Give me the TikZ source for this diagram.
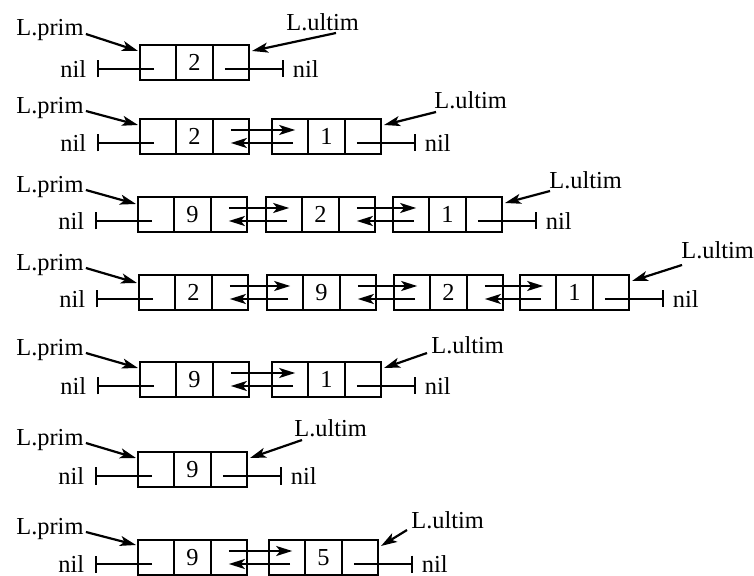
\documentclass[tikz,border=0pt]{standalone}
\usepackage{fontspec}
\setmainfont{Liberation Serif}
\usetikzlibrary{arrows.meta,positioning}

\tikzset{
  cell/.style={draw, line width=1.05pt, minimum width=18.17pt, minimum height=17.5pt, inner sep=0pt, outer sep=0pt},
  ptr/.style={line width=1.1pt, -{Stealth[length=8pt,width=5pt,inset=2pt]}},
  nilend/.style={line width=1.1pt, -{Bar[width=8.5pt,line width=1.1pt]}},
  lbl/.style={inner sep=1pt}
}

% list element: prev | value | next
\newcommand\elem[4]{%
  \node[cell,anchor=north west] (#1a) at (#2,#3) {};
  \node[cell,right=0pt of #1a] (#1b) {#4};
  \node[cell,right=0pt of #1b] (#1c) {};}
% next/prev links between two neighbours
\newcommand\dlink[2]{%
  \draw[ptr] ([shift={(0,-6.5)}]#1c.center) -- ([shift={(5,-6.5)}]#2a.center);
  \draw[ptr] ([shift={(3,6.5)}]#2a.center) -- ([shift={(0,6.5)}]#1c.center);}
% nil ends
\newcommand\nilL[1]{\draw[nilend] ([shift={(-4,6.5)}]#1a.center) -- ++(-57,0) node[lbl,left=4pt] (#1nil) {nil};}
\newcommand\nilR[1]{\draw[nilend] ([shift={(-6,6.5)}]#1c.center) -- ++(59,0) node[lbl,right=3pt] (#1nil) {nil};}

\begin{document}
\begin{tikzpicture}[x=0.5pt,y=-0.5pt,font=\fontsize{12.2}{14}\selectfont]
\useasboundingbox (0,0) rectangle (754,576);

% [2]
\elem{A1}{140}{45}{2}
\nilL{A1} \nilR{A1}
\node[lbl,anchor=west] (pA) at (14,30) {L.prim};
\node[lbl,anchor=west] (uA) at (284,22) {L.ultim};
\draw[ptr] ([yshift=-2pt]pA.east) -- ([shift={(-2,6)}]A1a.north west);
\draw[ptr] ([shift={(52,11)}]uA.west) -- ([shift={(3,6)}]A1c.north east);

% [2,1]
\elem{B1}{140}{119}{2}
\elem{B2}{272}{119}{1}
\dlink{B1}{B2}
\nilL{B1} \nilR{B2}
\node[lbl,anchor=west] (pB) at (14,108) {L.prim};
\node[lbl,anchor=west] (uB) at (432,100) {L.ultim};
\draw[ptr] ([yshift=-1.5pt]pB.east) -- ([shift={(-2,6)}]B1a.north west);
\draw[ptr] ([shift={(4,12)}]uB.west) -- ([shift={(3,6)}]B2c.north east);

% [9,2,1]
\elem{C1}{138}{197}{9}
\elem{C2}{266}{197}{2}
\elem{C3}{393}{197}{1}
\dlink{C1}{C2} \dlink{C2}{C3}
\nilL{C1} \nilR{C3}
\node[lbl,anchor=west] (pC) at (14,187) {L.prim};
\node[lbl,anchor=west] (uC) at (547,180) {L.ultim};
\draw[ptr] ([yshift=-1.5pt]pC.east) -- ([shift={(-2,7)}]C1a.north west);
\draw[ptr] ([shift={(3,11)}]uC.west) -- ([shift={(3,6)}]C3c.north east);

% [2,9,2,1]
\elem{D1}{139}{275}{2}
\elem{D2}{267}{275}{9}
\elem{D3}{394}{275}{2}
\elem{D4}{520}{275}{1}
\dlink{D1}{D2} \dlink{D2}{D3} \dlink{D3}{D4}
\nilL{D1} \nilR{D4}
\node[lbl,anchor=west] (pD) at (14,265) {L.prim};
\node[lbl,anchor=west] (uD) at (679,250) {L.ultim};
\draw[ptr] ([yshift=-1.5pt]pD.east) -- ([shift={(-2,8)}]D1a.north west);
\draw[ptr] ([shift={(3,15)}]uD.west) -- ([shift={(3,6)}]D4c.north east);

% [9,1]
\elem{E1}{140}{362}{9}
\elem{E2}{272}{362}{1}
\dlink{E1}{E2}
\nilL{E1} \nilR{E2}
\node[lbl,anchor=west] (pE) at (14,350) {L.prim};
\node[lbl,anchor=west] (uE) at (429,345) {L.ultim};
\draw[ptr] ([yshift=-1.5pt]pE.east) -- ([shift={(-2,6)}]E1a.north west);
\draw[ptr] ([shift={(-2,8)}]uE.west) -- ([shift={(3,6)}]E2c.north east);

% [9]
\elem{F1}{138}{452}{9}
\nilL{F1} \nilR{F1}
\node[lbl,anchor=west] (pF) at (14,440) {L.prim};
\node[lbl,anchor=west] (uF) at (292,428) {L.ultim};
\draw[ptr] ([yshift=-1.5pt]pF.east) -- ([shift={(-2,6)}]F1a.north west);
\draw[ptr] ([shift={(10,12)}]uF.west) -- ([shift={(3,6)}]F1c.north east);

% [9,5]
\elem{G1}{138}{540}{9}
\elem{G2}{269}{540}{5}
\dlink{G1}{G2}
\nilL{G1} \nilR{G2}
\node[lbl,anchor=west] (pG) at (14,529) {L.prim};
\node[lbl,anchor=west] (uG) at (409,520) {L.ultim};
\draw[ptr] ([yshift=-1.5pt]pG.east) -- ([shift={(-2,5)}]G1a.north west);
\draw[ptr] ([shift={(-2,10)}]uG.west) -- ([shift={(3,6)}]G2c.north east);
\end{tikzpicture}
\end{document}
